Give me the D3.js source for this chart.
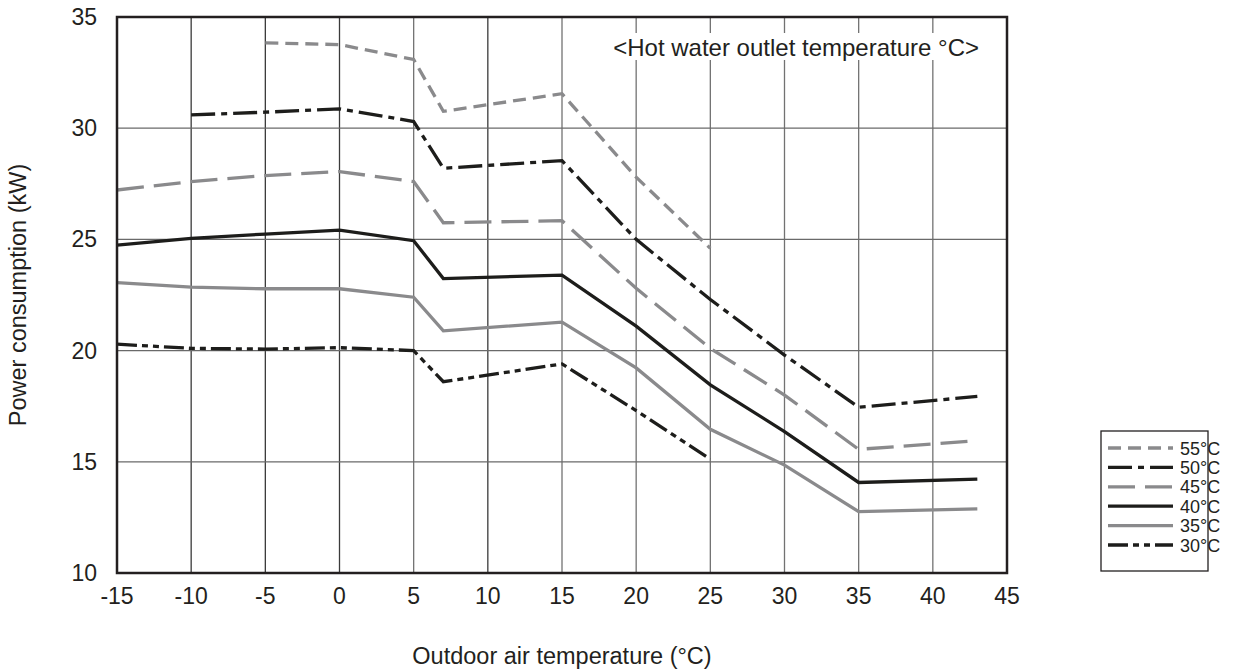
<!DOCTYPE html>
<html>
<head>
<meta charset="utf-8">
<script src="https://cdn.jsdelivr.net/npm/d3@7"></script>
<style>
  html, body { margin: 0; padding: 0; background: #fff; }
  svg { display: block; font-family: 'Liberation Sans', Arial, sans-serif; }
</style>
</head>
<body>
<div id="chart"></div>
<script>
// outdoor air temperature points (°C)
const temps = [-15, -10, -5, 0, 5, 7, 15, 20, 25, 30, 35, 43];
// power consumption (kW) per hot water outlet temperature
const s55 = [null, null, 33.84, 33.76, 33.09, 30.76, 31.55, 27.8, 24.6, null, null, null];
const s50 = [null, 30.6, 30.72, 30.87, 30.3, 28.2, 28.54, 25.0, 22.3, 19.8, 17.45, 17.94];
const s45 = [27.22, 27.6, 27.87, 28.05, 27.6, 25.75, 25.84, 22.8, 20.1, 18.0, 15.56, 15.95];
const s40 = [24.74, 25.05, 25.24, 25.42, 24.94, 23.24, 23.39, 21.1, 18.46, 16.36, 14.07, 14.22];
const s35 = [23.06, 22.85, 22.78, 22.78, 22.4, 20.89, 21.28, 19.22, 16.46, 14.85, 12.76, 12.88];
const s30 = [20.29, 20.1, 20.07, 20.13, 20.0, 18.6, 19.4, 17.3, 15.12, null, null, null];
const seriesNames = ['55°C', '50°C', '45°C', '40°C', '35°C', '30°C'];
const xTicks = [-15, -10, -5, 0, 5, 10, 15, 20, 25, 30, 35, 40, 45];
const yTicks = [10, 15, 20, 25, 30, 35];

const GREY = '#8a8a8c', BLACK = '#1d1d1b';
const styles = [
    { color: GREY, dash: '13,7' },
    { color: BLACK, dash: '24,6,6,6' },
    { color: GREY, dash: '27,10' },
    { color: BLACK, dash: null },
    { color: GREY, dash: null },
    { color: BLACK, dash: '20,5,6,5,6,5' },
];

const width = 1240, height = 672;
const margin = { top: 17, right: 233, bottom: 99, left: 117 };

const svg = d3.select('#chart').append('svg')
    .attr('width', width)
    .attr('height', height);

const x = d3.scaleLinear().domain([-15, 45]).range([margin.left, width - margin.right]);
const y = d3.scaleLinear().domain([10, 35]).range([height - margin.bottom, margin.top]);

// grid
const darkCols = [-10, -5, 0, 10];
svg.append('g').selectAll('line')
    .data(xTicks.slice(1, -1))
    .enter().append('line')
    .attr('x1', (d) => x(d)).attr('x2', (d) => x(d))
    .attr('y1', y(35)).attr('y2', y(10))
    .attr('stroke', (d) => (darkCols.includes(d) ? '#3a3a3a' : '#727272'))
    .attr('stroke-width', 1.3);

svg.append('g').selectAll('line')
    .data(yTicks.slice(1, -1))
    .enter().append('line')
    .attr('x1', x(-15)).attr('x2', x(45))
    .attr('y1', (d) => y(d)).attr('y2', (d) => y(d))
    .attr('stroke', '#6a6a6a')
    .attr('stroke-width', 1.3);

// annotation box (covers gridlines)
const note = '<Hot water outlet temperature °C>';
svg.append('rect')
    .attr('x', x(20) - 30).attr('y', 33)
    .attr('width', x(45) - x(20) + 22).attr('height', 27)
    .attr('fill', '#fff');
svg.append('text')
    .attr('x', x(45) - 28).attr('y', 56)
    .attr('text-anchor', 'end')
    .style('font-size', '24px')
    .attr('fill', '#231f20')
    .text(note);

// lines
const allSeries = [s55, s50, s45, s40, s35, s30];
const line = d3.line()
    .defined((d) => d.v != null)
    .x((d) => x(d.t))
    .y((d) => y(d.v));

svg.append('clipPath').attr('id', 'plotclip')
    .append('rect')
    .attr('x', x(-15)).attr('y', y(35))
    .attr('width', x(45) - x(-15)).attr('height', y(10) - y(35));

const lines = svg.append('g').attr('clip-path', 'url(#plotclip)');
allSeries.forEach((vals, i) => {
    const pts = temps.map((t, j) => ({ t: t, v: vals[j] })).filter((d) => d.v != null);
    lines.append('path')
        .datum(pts)
        .attr('fill', 'none')
        .attr('stroke', styles[i].color)
        .attr('stroke-width', 3.3)
        .attr('stroke-dasharray', styles[i].dash)
        .attr('stroke-linejoin', 'miter')
        .attr('d', line);
});

// frame
svg.append('rect')
    .attr('x', x(-15)).attr('y', y(35))
    .attr('width', x(45) - x(-15)).attr('height', y(10) - y(35))
    .attr('fill', 'none')
    .attr('stroke', '#231f20')
    .attr('stroke-width', 2.5);

// axes tick labels
svg.append('g').selectAll('text')
    .data(yTicks)
    .enter().append('text')
    .attr('x', x(-15) - 20)
    .attr('y', (d) => y(d) + 8)
    .attr('text-anchor', 'end')
    .style('font-size', '23px')
    .attr('fill', '#231f20')
    .text((d) => d);

svg.append('g').selectAll('text')
    .data(xTicks)
    .enter().append('text')
    .attr('x', (d) => x(d))
    .attr('y', y(10) + 31)
    .attr('text-anchor', 'middle')
    .style('font-size', '23px')
    .attr('fill', '#231f20')
    .text((d) => d);

// axis titles
svg.append('text')
    .attr('x', (x(-15) + x(45)) / 2)
    .attr('y', 664)
    .attr('text-anchor', 'middle')
    .style('font-size', '23.5px')
    .attr('fill', '#231f20')
    .text('Outdoor air temperature (°C)');

svg.append('text')
    .attr('transform', 'translate(26,' + 295 + ') rotate(-90)')
    .attr('text-anchor', 'middle')
    .style('font-size', '23.5px')
    .attr('fill', '#231f20')
    .text('Power consumption (kW)');

// legend
const lg = svg.append('g').attr('transform', 'translate(1101,431)');
lg.append('rect')
    .attr('width', 107).attr('height', 140)
    .attr('fill', '#fff')
    .attr('stroke', '#231f20')
    .attr('stroke-width', 1.3);
seriesNames.forEach((name, i) => {
    const ry = 17 + i * 19.4;
    lg.append('line')
        .attr('x1', 7).attr('x2', 72)
        .attr('y1', ry).attr('y2', ry)
        .attr('stroke', styles[i].color)
        .attr('stroke-width', 3.3)
        .attr('stroke-dasharray', styles[i].dash);
    lg.append('text')
        .attr('x', 79).attr('y', ry + 6.5)
        .style('font-size', '18px')
        .attr('fill', '#231f20')
        .text(name);
});
</script>
</body>
</html>
